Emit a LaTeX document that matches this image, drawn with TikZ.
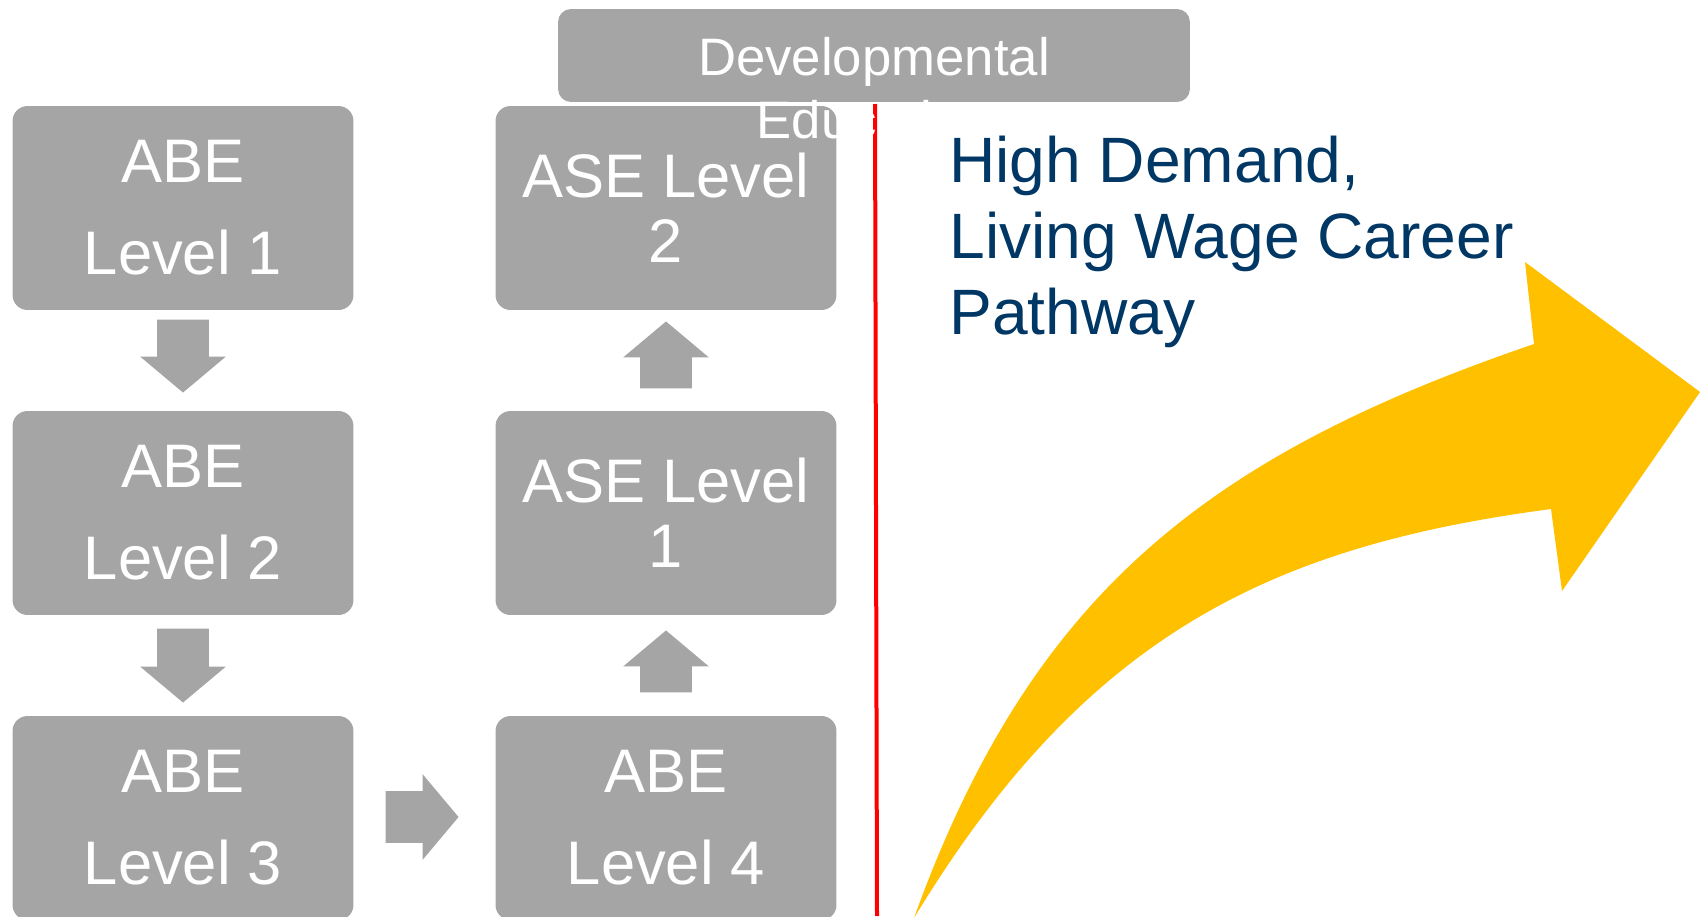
\documentclass[tikz,border=0pt]{standalone}
\usepackage{fontspec}
\setmainfont{Liberation Sans}
\usetikzlibrary{shapes.arrows}
\definecolor{boxgray}{RGB}{165,165,165}
\definecolor{pathyellow}{RGB}{255,192,0}
\definecolor{darkblue}{RGB}{0,55,100}
\tikzset{
  level/.style={fill=boxgray, rounded corners=0.3cm, minimum width=6.82cm, minimum height=4.08cm, inner sep=0pt, text=white, align=center},
  abe/.style={level, font=\fontsize{35}{52.4}\selectfont},
  ase/.style={level, font=\fontsize{35}{37}\selectfont},
  blockarrow/.style={single arrow, fill=boxgray, inner xsep=0pt, inner ysep=0.51cm, single arrow head extend=0.34cm, single arrow tip angle=100, anchor=tip}
}
\begin{document}
\begin{tikzpicture}[x=0.02cm, y=-0.02cm]
\useasboundingbox (0,0) rectangle (1700,916);
\node[abe] (abe1) at (183,208) {ABE\\Level 1};
\node[abe] (abe2) at (183,513) {ABE\\Level 2};
\node[abe] (abe3) at (183,818) {ABE\\Level 3};
\node[abe] (abe4) at (666,818) {ABE\\Level 4};
\node[ase] (ase1) at (666,513) {ASE Level\\1};
\node[ase] (ase2) at (666,208) {ASE Level\\2};
\node[blockarrow, rotate=-90, minimum height=1.46cm] (a12) at (183,393) {};
\node[blockarrow, rotate=-90, minimum height=1.48cm] (a23) at (183,703) {};
\node[blockarrow, minimum height=1.46cm] (a34) at (459,817) {};
\node[blockarrow, rotate=90, minimum height=1.24cm] (a4s1) at (666,630) {};
\node[blockarrow, rotate=90, minimum height=1.34cm] (as12) at (666,321) {};
\coordinate (redtop) at (875,104);
\coordinate (redbot) at (877,916);
\draw[red, line width=0.08cm] (redtop) -- (redbot);
\node[fill=boxgray, rounded corners=0.26cm, minimum width=12.64cm, minimum height=1.86cm] (dev) at (874,55.5) {};
\node[anchor=north, inner sep=0pt, text=white, align=center, font=\fontsize{30}{36}\selectfont] (devtext) at (874,37) {Developmental\\Education};
\node[anchor=north west, inner sep=0pt, text=darkblue, align=left, font=\fontsize{36.5}{43.2}\selectfont] (career) at (949,136) {High Demand,\\Living Wage Career\\Pathway};
\fill[pathyellow] (914,918) .. controls (1032,591) and (1210,455) .. (1534,344) -- (1525,262) -- (1700,392) -- (1562,591) -- (1551,509) .. controls (1272,546) and (1086,634) .. cycle;
\end{tikzpicture}
\end{document}
